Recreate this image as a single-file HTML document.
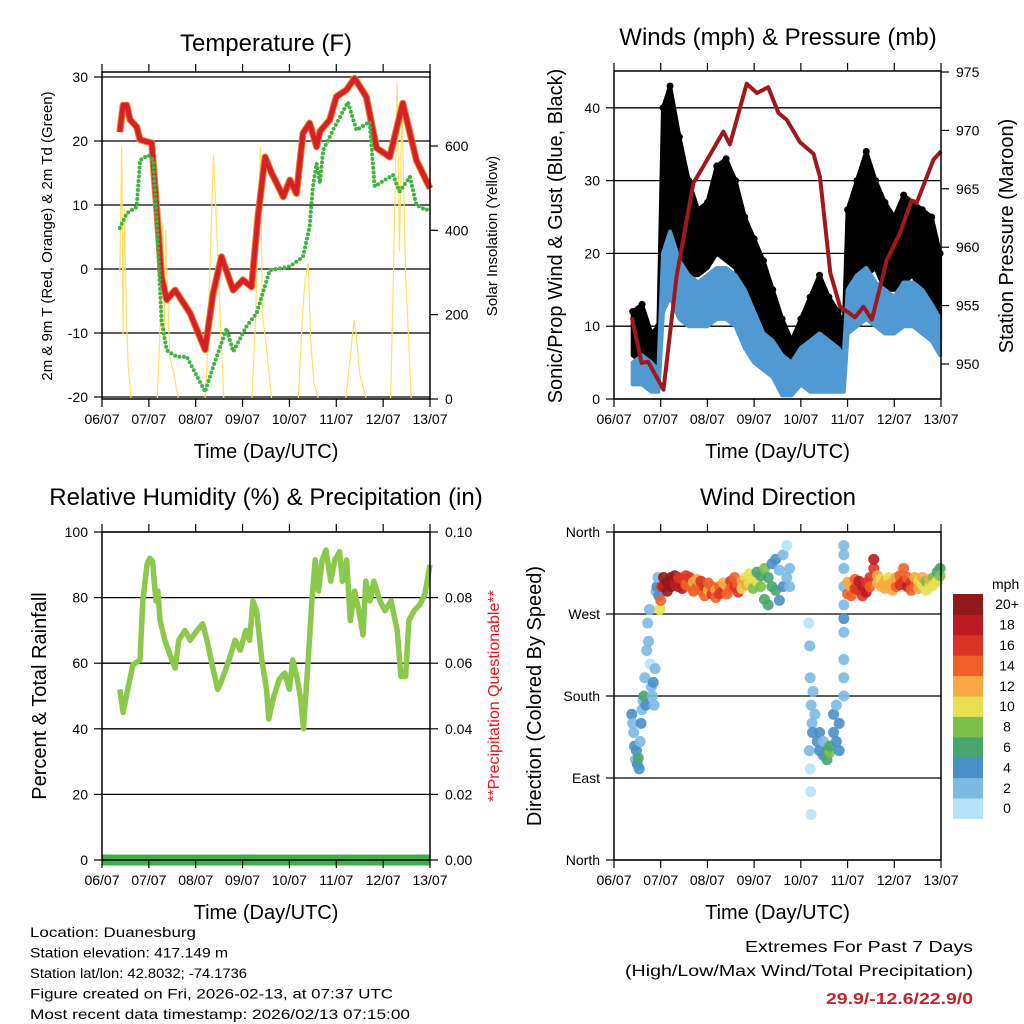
<!DOCTYPE html>
<html><head><meta charset="utf-8"><style>
body{margin:0;background:#fff}
svg{display:block;font-family:"Liberation Sans",Arial,sans-serif}
</style></head><body>
<svg id="fig" width="1024" height="1024" viewBox="0 0 1024 1024" xmlns="http://www.w3.org/2000/svg"></svg>
<script>
// ---------- DATA ----------
const dayLabels = ["06/07","07/07","08/07","09/07","10/07","11/07","12/07","13/07"];
// Temperature (day, degF)
const tempDays = [0.38,0.45,0.53,0.6,0.74,0.81,0.95,1.06,1.17,1.27,1.38,1.56,1.88,2.2,2.37,2.55,2.8,3.01,3.19,3.33,3.48,3.62,3.87,4.01,4.15,4.29,4.43,4.58,4.65,4.86,5.0,5.22,5.39,5.64,5.86,6.14,6.42,6.71,7.0];
const tempVals = [21.4,25.6,25.6,23.3,22.2,20.2,19.9,19.7,9.2,-1.2,-4.8,-3.3,-6.9,-12.6,-3.8,1.9,-3.3,-1.7,-2.8,8.2,17.5,15,11.3,13.9,11.8,21.2,22.8,19.1,21.5,23.3,26.9,28,29.8,26.9,18.9,17.5,25.9,17,12.6];
const dewDays = [0.38,0.53,0.74,0.81,0.99,1.09,1.17,1.27,1.38,1.59,1.81,2.2,2.37,2.66,2.8,3.08,3.3,3.58,4.01,4.29,4.43,4.5,4.58,4.65,4.72,4.93,5.25,5.43,5.71,5.82,6.21,6.35,6.57,6.71,6.92,7.0];
const dewVals = [6.4,8.7,9.7,17,17.8,17,7.6,-8,-12.7,-13.7,-13.7,-19.2,-15.3,-9.3,-12.9,-9,-6.9,-0.2,0.4,1.9,6.6,12.9,16.5,13.4,18.6,21.7,26.1,21.7,23,12.9,14.7,12.1,14.4,10,9.2,9.7];
const solarDays = [0.38,0.42,0.45,0.48,0.52,0.56,0.62,1.18,1.25,1.3,1.33,1.36,1.4,1.45,1.55,1.63,2.2,2.25,2.3,2.38,2.45,2.52,2.6,3.2,3.28,3.38,3.42,3.48,3.55,3.62,4.19,4.28,4.33,4.4,4.45,4.52,4.62,5.2,5.3,5.38,5.43,5.5,5.64,6.16,6.22,6.3,6.35,6.4,6.48,6.6,7.0];
const solarVals = [300,600,150,450,200,80,0,0,200,417,150,400,250,100,50,0,0,100,300,579,400,200,0,0,200,598,200,150,80,0,0,200,280,322,150,40,0,0,100,187,150,60,0,0,300,750,350,700,300,0,0];
const tempTicks = [-20,-10,0,10,20,30];
const solarTicks = [0,200,400,600];
// Winds (day, mph low/high)
const windDays = [0.4,0.6,0.8,0.95,1.05,1.2,1.4,1.6,1.8,2.0,2.2,2.4,2.6,2.8,3.0,3.2,3.4,3.6,3.8,4.0,4.2,4.4,4.6,4.8,4.92,5.0,5.2,5.4,5.6,5.8,6.0,6.2,6.4,6.6,6.8,6.98];
const gustLow  = [6,5,4,4,18,22,20,17,17,18,20,19,18,14,11,8,6,4,3,4,3,3,3,2,2,12,14,17,18,15,15,16,17,14,12,8];
const gustHigh = [12,13,9,10,40,43,36,30,26,27,32,33,30,25,22,19,15,11,8,11,14,17,14,12,10,26,30,34,30,27,25,28,27,26,25,20];
const windLow  = [2,2,1,1,12,14,11,10,10,10,11,11,10,7,5,4,3,0.5,0.5,2,1,1,1,1,1,9,10,11,10,9,9,10,10,9,8,6];
const windHigh = [5,6,5,4,20,23,19,17,16,17,18,18,17,15,12,9,8,6,5,7,8,9,8,7,6,15,17,18,16,15,14,16,16,15,13,11];
const presDays = [0.38,0.59,0.73,1.06,1.34,1.7,1.91,2.34,2.48,2.84,3.06,3.3,3.52,3.7,3.98,4.27,4.41,4.63,4.84,5.16,5.34,5.52,5.84,6.12,6.37,6.48,6.84,7.0];
const presVals = [954.0,950.1,950.2,947.8,957.5,965.5,966.9,969.9,968.8,974.0,973.2,973.7,971.5,970.9,969.0,968.0,966.0,957.8,954.9,954.0,954.9,953.8,958.9,961.2,964.0,963.8,967.5,968.2];
const windTicks = [0,10,20,30,40];
const presTicks = [950,955,960,965,970,975];
// RH (day, %)
const rhDays = [0.38,0.45,0.55,0.66,0.81,0.87,0.96,1.02,1.08,1.15,1.19,1.24,1.34,1.49,1.56,1.64,1.77,1.88,2.03,2.15,2.24,2.35,2.47,2.56,2.71,2.84,2.95,3.07,3.15,3.22,3.3,3.41,3.51,3.56,3.65,3.78,3.9,4.0,4.07,4.17,4.24,4.3,4.4,4.48,4.55,4.62,4.7,4.78,4.88,4.97,5.07,5.13,5.22,5.3,5.39,5.48,5.57,5.63,5.72,5.8,5.93,6.04,6.17,6.3,6.38,6.48,6.55,6.66,6.79,6.89,7.0];
const rhVals = [52,45,52,59.5,61,79,90,92,91,79,82,73,67,61,58.5,67,70,67,70,72,67,59.5,52,55,61,67,64,70,67,79,76,61,52,43,49,55,57,52,61,55,49,40,61,79,91.5,82,91.5,94.5,85,91.5,94,85,91.5,73,82,76,68.6,85,79,85,79,76,79,70,56,56,73,76,78,81,90];
const rhTicks = [0,20,40,60,80,100];
const precipTicks = ["0.00","0.02","0.04","0.06","0.08","0.10"];
// Wind direction observations [day, direction deg, speed mph]
const dirObs = [
[0.38,160,4],[0.40,150,3],[0.42,140,2],[0.44,125,4],[0.46,110,3],[0.48,120,4],[0.50,105,5],[0.52,112,6],[0.54,100,4],[0.56,130,3],[0.58,150,4],[0.60,165,2],[0.62,175,3],[0.64,180,6],[0.66,200,2],[0.68,170,4],[0.70,230,2],[0.72,260,3],[0.74,240,2],[0.76,275,2],[0.78,215,1],[0.80,190,2],[0.82,180,3],[0.84,195,4],[0.86,170,2],[0.88,210,3],[0.90,295,2],[0.92,300,4],[0.94,310,3],[0.96,290,5],[0.98,275,10],[1.00,285,14],[1.02,300,16],
[1.06,300,18],[1.06,310,20],[1.14,305,20],[1.14,295,20],[1.22,310,20],[1.22,300,20],[1.30,305,18],[1.30,312,20],[1.38,300,18],[1.38,310,16],[1.46,308,16],[1.46,298,18],[1.54,312,16],[1.54,302,14],[1.62,300,14],[1.62,310,16],[1.70,305,12],[1.70,295,14],[1.78,300,14],[1.78,308,12],[1.86,296,14],[1.86,306,16],[1.94,300,16],[1.94,290,14],[2.02,296,12],[2.02,304,14],[2.10,292,16],[2.10,300,14],[2.18,296,12],[2.18,288,14],[2.26,300,14],[2.26,292,16],[2.34,296,16],[2.34,304,12],[2.42,300,12],[2.42,292,14],[2.50,306,16],[2.50,298,14],[2.58,300,16],[2.58,310,14],[2.66,302,14],[2.66,294,16],[2.74,306,12],[2.74,298,10],[2.82,310,10],[2.82,302,12],[2.90,304,10],[2.90,314,10],[2.98,298,8],[2.98,310,10],[3.06,306,10],[3.06,316,6],[3.14,300,8],[3.14,312,6],[3.22,286,6],[3.22,320,8],[3.30,280,6],[3.30,310,7],[3.38,325,4],[3.38,300,6],[3.46,330,4],[3.46,296,6],[3.54,318,3],[3.54,285,4],[3.62,335,2],[3.62,300,4],[3.70,345,1],[3.70,310,2],[3.76,300,3],[3.76,320,2],
[4.17,260,1],[4.19,235,2],[4.20,200,2],[4.22,170,3],[4.24,150,2],[4.26,185,2],[4.18,120,2],[4.20,100,1],[4.21,75,1],[4.22,50,1],[4.25,140,4],[4.30,160,3],[4.35,130,4],
[4.40,140,4],[4.40,120,4],[4.48,130,3],[4.48,115,4],[4.56,120,6],[4.56,110,7],[4.62,118,8],[4.62,125,6],[4.70,140,4],[4.70,160,4],[4.76,130,4],[4.76,170,3],[4.82,150,4],[4.82,120,4],
[4.92,345,2],[4.92,335,2],[4.92,320,2],[4.92,300,3],[4.92,280,2],[4.92,250,2],[4.92,220,2],[4.92,200,3],[4.92,180,2],[4.92,265,4],
[5.00,292,14],[5.00,305,12],[5.08,300,12],[5.08,290,14],[5.16,298,16],[5.16,308,14],[5.24,296,16],[5.24,306,18],[5.32,300,18],[5.32,290,16],[5.40,304,16],[5.40,294,18],[5.48,310,16],[5.48,300,14],[5.56,320,16],[5.56,330,18],[5.64,312,12],[5.64,304,12],[5.72,308,10],[5.72,300,12],[5.80,306,12],[5.80,298,12],[5.88,310,10],[5.88,302,12],[5.96,304,12],[5.96,296,12],[6.04,300,14],[6.04,310,12],[6.12,312,14],[6.12,302,16],[6.20,320,14],[6.20,306,16],[6.28,300,18],[6.28,310,14],[6.36,304,16],[6.36,296,14],[6.44,310,12],[6.44,300,14],[6.52,306,10],[6.52,298,12],[6.60,302,10],[6.60,310,12],[6.68,296,10],[6.68,306,8],[6.76,300,10],[6.76,308,12],[6.84,310,8],[6.84,302,10],[6.92,316,6],[6.92,306,10],[6.98,320,6],[6.98,312,8]];
const dirTickLabels = ["North","East","South","West","North"];
const speedColors = ["#b6e3f8","#7cb9e3","#4a8fc6","#49a56f","#7cc04a","#e6e052","#f7a843","#ef6128","#db3426","#bd1b22","#921a1a"];
const speedLabels = ["0","2","4","6","8","10","12","14","16","18","20+"];

// ---------- HELPERS ----------
const NS = "http://www.w3.org/2000/svg";
const svg = document.getElementById("fig");
function mk(tag, attrs, parent) {
  const e = document.createElementNS(NS, tag);
  for (const k in attrs) e.setAttribute(k, attrs[k]);
  (parent || svg).appendChild(e);
  return e;
}
function txt(s, x, y, size, anchor, extra) {
  const e = mk("text", Object.assign({x: x, y: y, "font-size": size, "text-anchor": anchor || "middle", fill: "#000"}, extra || {}));
  e.textContent = s;
  return e;
}
const P = {
  temp: {x0: 102, x1: 430, y0: 72, y1: 399},
  wind: {x0: 614, x1: 941, y0: 71, y1: 399},
  rh:   {x0: 102, x1: 430, y0: 532, y1: 860},
  dir:  {x0: 614, x1: 941, y0: 532, y1: 860}
};
function xs(p) { return d => p.x0 + d * (p.x1 - p.x0) / 7; }
function ys(p, lo, hi) { return v => p.y1 - (v - lo) * (p.y1 - p.y0) / (hi - lo); }
function pathFrom(xa, ya, fx, fy) {
  return xa.map((d, i) => (i ? "L" : "M") + fx(d).toFixed(1) + "," + fy(ya[i]).toFixed(1)).join("");
}
function frame(p, name) {
  const r = mk("rect", {x: p.x0, y: p.y0, width: p.x1 - p.x0, height: p.y1 - p.y0, fill: "none", stroke: "#000", "stroke-width": 1.5});
  
  
  const fx = xs(p);
  dayLabels.forEach((lab, i) => {
    const x = fx(i);
    const t1 = mk("line", {x1: x, x2: x, y1: p.y0 - 8, y2: p.y0, stroke: "#000", "stroke-width": 1.2});
    
    
    const t2 = mk("line", {x1: x, x2: x, y1: p.y1, y2: p.y1 + 8, stroke: "#000", "stroke-width": 1.2});
    
    
    const l = txt(lab, x, p.y1 + 25, 14);
    
    
  });
  const xt = txt("Time (Day/UTC)", (p.x0 + p.x1) / 2, p.y1 + 59, 20);
  
  
}
function leftTicks(p, vals, fy, labels, name, grid) {
  vals.forEach((v, i) => {
    const y = fy(v);
    if (grid) {
      const g = mk("line", {x1: p.x0, x2: p.x1, y1: y, y2: y, stroke: "#000", "stroke-width": 1.3});
      
      
    }
    const t = mk("line", {x1: p.x0 - 8, x2: p.x0, y1: y, y2: y, stroke: "#000", "stroke-width": 1.2});
    
    
    const l = txt(labels[i], p.x0 - 14, y + 5, 14, "end");
    
    
  });
}
function rightTicks(p, vals, fy, labels, name) {
  vals.forEach((v, i) => {
    const y = fy(v);
    const t = mk("line", {x1: p.x1, x2: p.x1 + 8, y1: y, y2: y, stroke: "#000", "stroke-width": 1.2});
    
    
    const l = txt(labels[i], p.x1 + 15, y + 5, 14, "start");
    
    
  });
}
function vtitle(s, x, y, size, color) {
  return txt(s, x, y, size, "middle", {transform: "rotate(-90 " + x + " " + y + ")", fill: color || "#000"});
}

// ---------- PANEL 1: TEMPERATURE ----------
{
  const p = P.temp, fx = xs(p);
  const fy = v => 269 - v * 6.4;
  const fs = v => 399 - v * 0.4217;
  const t = txt("Temperature (F)", 266, 51, 24);
  
  
  leftTicks(p, tempTicks, fy, tempTicks.map(String), "temperature", true);
  rightTicks(p, solarTicks, fs, solarTicks.map(String), "solar");
  const sol = mk("path", {d: pathFrom(solarDays, solarVals, fx, fs), fill: "none", stroke: "#ffe066", "stroke-width": 1.2});
  
  
  const t9 = mk("path", {d: pathFrom(tempDays, tempVals, fx, fy), fill: "none", stroke: "#f07f2a", "stroke-width": 7, "stroke-linejoin": "round"});
  
  
  const t2 = mk("path", {d: pathFrom(tempDays, tempVals, fx, fy), fill: "none", stroke: "#d42128", "stroke-width": 5, "stroke-linejoin": "round"});
  
  
  const dw = mk("path", {d: pathFrom(dewDays, dewVals, fx, fy), fill: "none", stroke: "#3fb43f", "stroke-width": 4, "stroke-dasharray": "0 4.5", "stroke-linecap": "round"});
  
  
  frame(p, "temperature");
  const yl = vtitle("2m & 9m T (Red, Orange) & 2m Td (Green)", 52, 236, 15);
  
  
  const yr = vtitle("Solar Insolation (Yellow)", 497, 236, 15);
  
  
}

// ---------- PANEL 2: WINDS ----------
{
  const p = P.wind, fx = xs(p);
  const fy = v => 399 - v * 7.28;
  const fp = v => 364 - (v - 950) * 11.68;
  const t = txt("Winds (mph) & Pressure (mb)", 778, 45, 24);
  
  
  leftTicks(p, windTicks, fy, windTicks.map(String), "wind", true);
  rightTicks(p, presTicks, fp, presTicks.map(String), "pressure");
  function band(lo, hi, color) {
    let d = windDays.map((t, i) => (i ? "L" : "M") + fx(t).toFixed(1) + "," + fy(hi[i]).toFixed(1)).join("");
    for (let i = windDays.length - 1; i >= 0; i--) d += "L" + fx(windDays[i]).toFixed(1) + "," + fy(lo[i]).toFixed(1);
    return mk("path", {d: d + "Z", fill: color, stroke: color, "stroke-width": 4, "stroke-linejoin": "round"});
  }
  const g = band(gustLow, gustHigh, "#000");
  
  
  windDays.forEach((t, i) => {
    const c = mk("circle", {cx: fx(t), cy: fy(gustHigh[i]), r: 3.5, fill: "#000"});
    
    
  });
  const w = band(windLow, windHigh, "#5199d2");
  
  
  const pr = mk("path", {d: pathFrom(presDays, presVals, fx, fp), fill: "none", stroke: "#a0181c", "stroke-width": 4, "stroke-linejoin": "round"});
  
  
  frame(p, "winds");
  const yl = vtitle("Sonic/Prop Wind & Gust (Blue, Black)", 562, 236, 20);
  
  
  const yr = vtitle("Station Pressure (Maroon)", 1013, 236, 20);
  
  
}

// ---------- PANEL 3: RH ----------
{
  const p = P.rh, fx = xs(p);
  const fy = ys(p, 0, 100);
  const t = txt("Relative Humidity (%) & Precipitation (in)", 266, 505, 24);
  
  
  leftTicks(p, rhTicks, fy, rhTicks.map(String), "humidity", true);
  rightTicks(p, rhTicks, fy, precipTicks, "precip");
  const pc = mk("line", {x1: p.x0, x2: p.x1, y1: 860, y2: 860, stroke: "#3fae49", "stroke-width": 11});
  
  
  const rh = mk("path", {d: pathFrom(rhDays, rhVals, fx, fy), fill: "none", stroke: "#8cc84b", "stroke-width": 5.5, "stroke-linejoin": "round"});
  
  
  frame(p, "humidity");
  const yl = vtitle("Percent & Total Rainfall", 46, 696, 20);
  
  
  const yr = vtitle("**Precipitation Questionable**", 499, 696, 16, "#e8141c");
  
  
}

// ---------- PANEL 4: WIND DIRECTION ----------
{
  const p = P.dir, fx = xs(p);
  const fy = ys(p, 0, 360);
  const t = txt("Wind Direction", 778, 505, 24);
  
  
  leftTicks(p, [0, 90, 180, 270, 360], fy, dirTickLabels, "direction", true);
  dirObs.forEach(o => {
    const ci = Math.min(10, Math.floor(o[2] / 2));
    const c = mk("circle", {cx: fx(o[0]), cy: fy(o[1]), r: 5.5, fill: speedColors[ci], "fill-opacity": 0.9});
    
    
  });
  frame(p, "direction");
  const yl = vtitle("Direction (Colored By Speed)", 541, 696, 20);
  
  
  const cbTop = 594, bh = 20.4;
  const mph = txt("mph", 992, 589, 14, "start");
  
  
  speedColors.forEach((col, i) => {
    const y = cbTop + (10 - i) * bh;
    const r = mk("rect", {x: 953, y: y, width: 30, height: bh + 0.5, fill: col});
    
    
    const l = txt(speedLabels[i], 1007, y + bh / 2 + 5, 14, "middle");
    
    
  });
}

// ---------- FOOTER ----------
{
  const lines = ["Location: Duanesburg","Station elevation: 417.149 m","Station lat/lon: 42.8032; -74.1736","Figure created on Fri, 2026-02-13, at 07:37 UTC","Most recent data timestamp: 2026/02/13 07:15:00"];
  const widths = [166,198,217,363,380];
  lines.forEach((s, i) => {
    const e = txt(s, 30, 937 + i * 20.5, 14, "start", {textLength: widths[i], lengthAdjust: "spacingAndGlyphs"});
    
    
  });
  const a = txt("Extremes For Past 7 Days", 973, 952, 16, "end", {textLength: 228, lengthAdjust: "spacingAndGlyphs"});
  
  
  const b = txt("(High/Low/Max Wind/Total Precipitation)", 973, 976, 16, "end", {textLength: 348, lengthAdjust: "spacingAndGlyphs"});
  
  
  const c = txt("29.9/-12.6/22.9/0", 973, 1004, 16, "end", {fill: "#c8202a", "font-weight": "bold", textLength: 147, lengthAdjust: "spacingAndGlyphs"});
  
  
}
</script>
</body></html>
